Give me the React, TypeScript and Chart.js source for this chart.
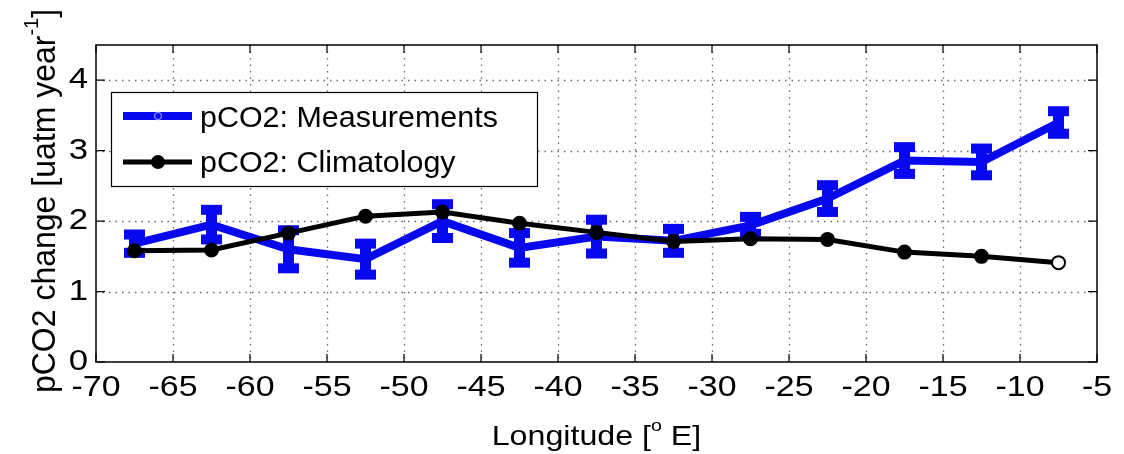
import React, { useEffect, useRef } from 'react';
import { Chart, registerables } from 'chart.js';

Chart.register(...registerables);

const longitudes = [-67.5, -62.5, -57.5, -52.5, -47.5, -42.5, -37.5, -32.5, -27.5, -22.5, -17.5, -12.5, -7.5];
const measured = [1.68, 1.95, 1.6, 1.46, 2.0, 1.62, 1.78, 1.72, 1.94, 2.32, 2.86, 2.84, 3.4];
const measuredErr = [0.13, 0.21, 0.27, 0.22, 0.24, 0.21, 0.24, 0.17, 0.12, 0.19, 0.19, 0.19, 0.16];
const climatology = [1.58, 1.59, 1.83, 2.07, 2.13, 1.97, 1.84, 1.71, 1.75, 1.74, 1.56, 1.5, 1.41];

const xTicks = [-70, -65, -60, -55, -50, -45, -40, -35, -30, -25, -20, -15, -10, -5];
const yTicks = [0, 1, 2, 3, 4];

const seriesNames = ['pCO2: Measurements', 'pCO2: Climatology'];

const FONT = '"Liberation Sans", Arial, Helvetica, sans-serif';
const BLUE = '#0808ee';

type Part = { t: string; sup?: boolean };

function txt(ctx: CanvasRenderingContext2D, s: string, x: number, y: number, size: number, sx: number, align: CanvasTextAlign, baseline: CanvasTextBaseline) {
  ctx.save();
  ctx.translate(x, y);
  ctx.scale(sx, 1);
  ctx.font = `${size}px ${FONT}`;
  ctx.textAlign = align;
  ctx.textBaseline = baseline;
  ctx.fillStyle = '#000';
  ctx.fillText(s, 0, 0);
  ctx.restore();
}

function rich(ctx: CanvasRenderingContext2D, parts: Part[], x: number, y: number, size: number, sx: number, sy: number, rotate: boolean) {
  ctx.save();
  ctx.translate(x, y);
  if (rotate) ctx.rotate(-Math.PI / 2);
  ctx.scale(sx, sy);
  ctx.fillStyle = '#000';
  ctx.textAlign = 'left';
  ctx.textBaseline = 'alphabetic';
  const widths = parts.map((p) => {
    ctx.font = `${p.sup ? Math.round(size * 0.62) : size}px ${FONT}`;
    return ctx.measureText(p.t).width;
  });
  const total = widths.reduce((a, b) => a + b, 0);
  let cur = -total / 2;
  parts.forEach((p, i) => {
    ctx.font = `${p.sup ? Math.round(size * 0.62) : size}px ${FONT}`;
    ctx.fillText(p.t, cur, p.sup ? -size * 0.5 : 0);
    cur += widths[i];
  });
  ctx.restore();
}

const decorPlugin = {
  id: 'decor',
  beforeDraw(chart: any) {
    const ctx = chart.ctx as CanvasRenderingContext2D;
    ctx.save();
    ctx.fillStyle = '#fff';
    ctx.fillRect(0, 0, chart.width, chart.height);
    ctx.restore();
  },
  beforeDatasetsDraw(chart: any) {
    const ctx = chart.ctx as CanvasRenderingContext2D;
    const { left, right, top, bottom } = chart.chartArea;
    const xs = chart.scales.x;
    const ys = chart.scales.y;
    ctx.save();
    ctx.strokeStyle = '#6a6a6a';
    ctx.lineWidth = 1.3;
    ctx.setLineDash([1.5, 5]);
    xTicks.forEach((v) => {
      const px = Math.round(xs.getPixelForValue(v)) + 0.5;
      if (px <= left + 1 || px >= right - 1) return;
      ctx.beginPath();
      ctx.moveTo(px, top);
      ctx.lineTo(px, bottom);
      ctx.stroke();
    });
    yTicks.forEach((v) => {
      const py = Math.round(ys.getPixelForValue(v)) + 0.5;
      if (py >= bottom - 1 || py <= top + 1) return;
      ctx.beginPath();
      ctx.moveTo(left, py);
      ctx.lineTo(right, py);
      ctx.stroke();
    });
    ctx.restore();
  },
  afterDatasetDraw(chart: any, args: any) {
    if (args.index !== 0) return;
    const ctx = chart.ctx as CanvasRenderingContext2D;
    const xs = chart.scales.x;
    const ys = chart.scales.y;
    ctx.save();
    ctx.strokeStyle = BLUE;
    ctx.fillStyle = BLUE;
    ctx.lineWidth = 11;
    longitudes.forEach((lon, i) => {
      const px = xs.getPixelForValue(lon);
      const yLo = ys.getPixelForValue(measured[i] - measuredErr[i]);
      const yHi = ys.getPixelForValue(measured[i] + measuredErr[i]);
      ctx.beginPath();
      ctx.moveTo(px, yLo);
      ctx.lineTo(px, yHi);
      ctx.stroke();
      ctx.fillRect(px - 10.5, yHi - 5, 21, 10);
      ctx.fillRect(px - 10.5, yLo - 5, 21, 10);
    });
    ctx.restore();
  },
  afterDraw(chart: any) {
    const ctx = chart.ctx as CanvasRenderingContext2D;
    const { left, right, top, bottom } = chart.chartArea;
    const xs = chart.scales.x;
    const ys = chart.scales.y;
    ctx.save();
    ctx.strokeStyle = '#000';
    ctx.lineWidth = 1.5;
    ctx.setLineDash([]);
    ctx.strokeRect(left, top, right - left, bottom - top);
    ctx.lineWidth = 1.2;
    xTicks.forEach((v) => {
      const px = xs.getPixelForValue(v);
      ctx.beginPath();
      ctx.moveTo(px, bottom);
      ctx.lineTo(px, bottom - 8);
      ctx.moveTo(px, top);
      ctx.lineTo(px, top + 8);
      ctx.stroke();
    });
    yTicks.forEach((v) => {
      const py = ys.getPixelForValue(v);
      ctx.beginPath();
      ctx.moveTo(left, py);
      ctx.lineTo(left + 9, py);
      ctx.moveTo(right, py);
      ctx.lineTo(right - 9, py);
      ctx.stroke();
    });
    ctx.restore();

    xTicks.forEach((v) => {
      txt(ctx, String(v), xs.getPixelForValue(v), 388, 29, 1.17, 'center', 'middle');
    });
    yTicks.forEach((v) => {
      txt(ctx, String(v), left - 8, ys.getPixelForValue(v), 29, 1.2, 'right', 'middle');
    });

    rich(ctx, [{ t: 'Longitude [' }, { t: 'o', sup: true }, { t: ' E]' }], (left + right) / 2, 445, 28, 1.15, 1, false);
    rich(ctx, [{ t: 'pCO2 change [uatm year' }, { t: '-1', sup: true }, { t: ']' }], 55, 201, 32, 1, 1.05, true);

    ctx.save();
    ctx.fillStyle = '#fff';
    ctx.fillRect(111, 92, 426, 94);
    ctx.strokeStyle = '#000';
    ctx.lineWidth = 1.2;
    ctx.strokeRect(111.5, 92.5, 426, 94);
    ctx.strokeStyle = BLUE;
    ctx.lineWidth = 8;
    ctx.beginPath();
    ctx.moveTo(123, 116);
    ctx.lineTo(192, 116);
    ctx.stroke();
    ctx.strokeStyle = '#7a7aff';
    ctx.lineWidth = 1.5;
    ctx.beginPath();
    ctx.arc(158, 116, 3.5, 0, Math.PI * 2);
    ctx.stroke();
    ctx.strokeStyle = '#000';
    ctx.lineWidth = 5;
    ctx.beginPath();
    ctx.moveTo(123, 162);
    ctx.lineTo(192, 162);
    ctx.stroke();
    ctx.fillStyle = '#000';
    ctx.beginPath();
    ctx.arc(158, 162, 7, 0, Math.PI * 2);
    ctx.fill();
    ctx.restore();
    txt(ctx, seriesNames[0], 200, 127, 29, 1.05, 'left', 'alphabetic');
    txt(ctx, seriesNames[1], 200, 172, 29, 1.05, 'left', 'alphabetic');
  },
};

export default function App() {
  const canvasRef = useRef<HTMLCanvasElement | null>(null);

  useEffect(() => {
    const canvas = canvasRef.current;
    if (!canvas) return;
    const chart = new Chart(canvas, {
      type: 'line',
      data: {
        datasets: [
          {
            label: seriesNames[0],
            data: longitudes.map((x, i) => ({ x, y: measured[i] })),
            borderColor: BLUE,
            backgroundColor: BLUE,
            borderWidth: 8,
            pointRadius: 0,
            tension: 0,
            order: 1,
          },
          {
            label: seriesNames[1],
            data: longitudes.map((x, i) => ({ x, y: climatology[i] })),
            borderColor: '#000',
            backgroundColor: '#000',
            borderWidth: 5,
            pointRadius: 6.5,
            pointBorderWidth: 2,
            pointBorderColor: '#000',
            pointBackgroundColor: longitudes.map((_, i) => (i === longitudes.length - 1 ? '#fff' : '#000')),
            tension: 0,
            order: 0,
          },
        ],
      },
      options: {
        responsive: false,
        animation: false,
        layout: { padding: { left: 96, right: 27, top: 45, bottom: 92 } },
        scales: {
          x: { type: 'linear', min: -70, max: -5, display: false },
          y: { type: 'linear', min: 0, max: 4.5, display: false },
        },
        plugins: {
          legend: { display: false },
          tooltip: { enabled: false },
        },
      },
      plugins: [decorPlugin],
    });
    return () => chart.destroy();
  }, []);

  return (
    <div style={{ position: 'absolute', left: 0, top: 0, width: 1124, height: 454, background: '#fff' }}>
      <canvas ref={canvasRef} width={1124} height={454} style={{ display: 'block' }} />
    </div>
  );
}
